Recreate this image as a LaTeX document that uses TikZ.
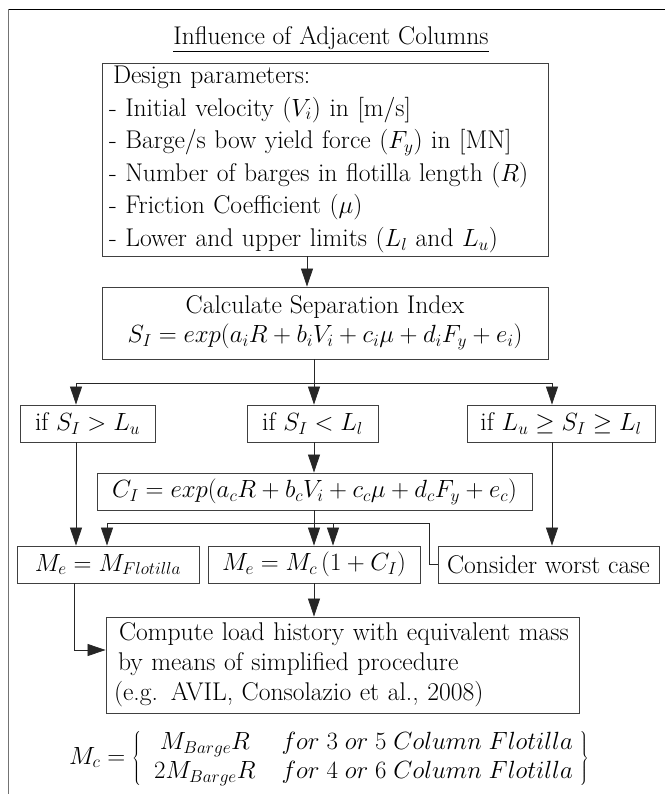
\documentclass[tikz,border=0pt]{standalone}
\usetikzlibrary{arrows.meta}
\DeclareMathSizes{25.6}{23.5}{16.5}{12}
\begin{document}
\begin{tikzpicture}[x=1pt,y=-1pt,
  box/.style={draw=black!75, line width=0.9pt, inner sep=0pt, font=\fontsize{25.6}{29}\selectfont},
  con/.style={draw=black!85, line width=0.8pt},
  arr/.style={con, -{Triangle[length=18pt,width=12pt]}},
]
\useasboundingbox (0,0) rectangle (665,794);
% outer frame (only top and left edges visible)
\draw[black, line width=0.8pt] (8.5,9.5) -- (665,9.5);
\draw[black!55, line width=1.6pt] (8.5,9.5) -- (8.5,794);

\node[anchor=base, inner sep=0pt, font=\fontsize{25.6}{29}\selectfont] (title) at (331,45) {\underline{Influence of Adjacent Columns}};

\node[box, minimum width=446pt, minimum height=193pt, text width=432pt, inner xsep=7pt, align=left,
      font=\fontsize{25.6}{32.6}\selectfont] (design) at (325,159.5)
 {\hspace*{4pt}Design parameters:\\
  - Initial velocity ($V_i$) in [m/s]\\
  - Barge/s bow yield force ($F_y$) in [MN]\\
  - Number of barges in flotilla length ($R$)\\
  - Friction Coefficient ($\mu$)\\
  - Lower and upper limits ($L_l$ and $L_u$)};

\node[box, minimum width=446pt, minimum height=72pt, align=center] (calc) at (325,323)
 {Calculate Separation Index\\ $S_I = exp(a_iR + b_iV_i + c_i\mu + d_iF_y + e_i)$};

\node[box, minimum width=135pt, minimum height=37pt] (if1) at (87.5,423.5) {if $S_I > L_u$};
\node[box, minimum width=131pt, minimum height=37pt] (if2) at (312.5,423.5) {if $S_I < L_l$};
\node[box, minimum width=188pt, minimum height=37pt] (if3) at (561,423.5) {if $L_u \geq S_I \geq L_l$};

\node[box, minimum width=435pt, minimum height=37pt] (ci) at (314.5,491.5)
 {$C_I = exp(a_cR + b_cV_i + c_c\mu + d_cF_y + e_c)$};

\node[box, minimum width=182pt, minimum height=37pt] (mf) at (108,564.5) {$M_e = M_{Flotilla}$};
\node[box, minimum width=212pt, minimum height=37pt] (mc) at (314,564.5) {$M_e = M_c\,(1 + C_I)$};
\node[box, minimum width=221pt, minimum height=37pt] (worst) at (548.5,564.5) {Consider worst case};

\node[box, minimum width=473pt, minimum height=96pt, text width=457pt, inner xsep=8pt, align=left,
      font=\fontsize{25.6}{30}\selectfont] (compute) at (342.5,665)
 {\hspace*{5pt}Compute load history with equivalent mass\\
  \hspace*{4pt}by means of simplified procedure\\
  (e.g. AVIL, Consolazio et al., 2008)};

\node[inner sep=0pt, font=\fontsize{25.6}{29}\selectfont] (mcdef) at (329,758)
 {$M_c = \left\{\hspace{8pt} \begin{array}{c@{\hspace{26pt}}c} M_{Barge}R & for\;3\;or\;5\;Column\;Flotilla\\
   2M_{Barge}R & for\;4\;or\;6\;Column\;Flotilla \end{array}\hspace{2pt}\right\}$};

% column coordinates
\coordinate (x1) at (307,0);
\coordinate (split) at (314,383);
\coordinate (cA) at (76,383);
\coordinate (cC) at (552,383);
\coordinate (fb) at (429,523);
\coordinate (fbl) at (107,523);
\coordinate (fbm) at (333,523);
\coordinate (elbow) at (74,650);

\draw[arr] (design.south -| x1) -- (calc.north -| x1);
\draw[con] (calc.south -| split) -- (split);
\draw[con] (cA) -- (cC);
\draw[arr] (cA) -- (if1.north -| cA);
\draw[arr] (split) -- (if2.north -| split);
\draw[arr] (cC) -- (if3.north -| cC);

\draw[arr] (if1.south -| cA) -- (mf.north -| cA);
\draw[arr] (if2.south -| split) -- (ci.north -| split);
\draw[arr] (if3.south -| cC) -- (worst.north -| cC);
\draw[arr] (ci.south -| split) -- (mc.north -| split);

\draw[arr] (worst.west) -| (fb) -- (fbl) -- (mf.north -| fbl);
\draw[arr] (fbm) -- (mc.north -| fbm);

\draw[arr] (mc.south -| split) -- (compute.north -| split);
\draw[arr] (mf.south -| elbow) -- (elbow) -- (compute.west |- elbow);
\end{tikzpicture}
\end{document}
